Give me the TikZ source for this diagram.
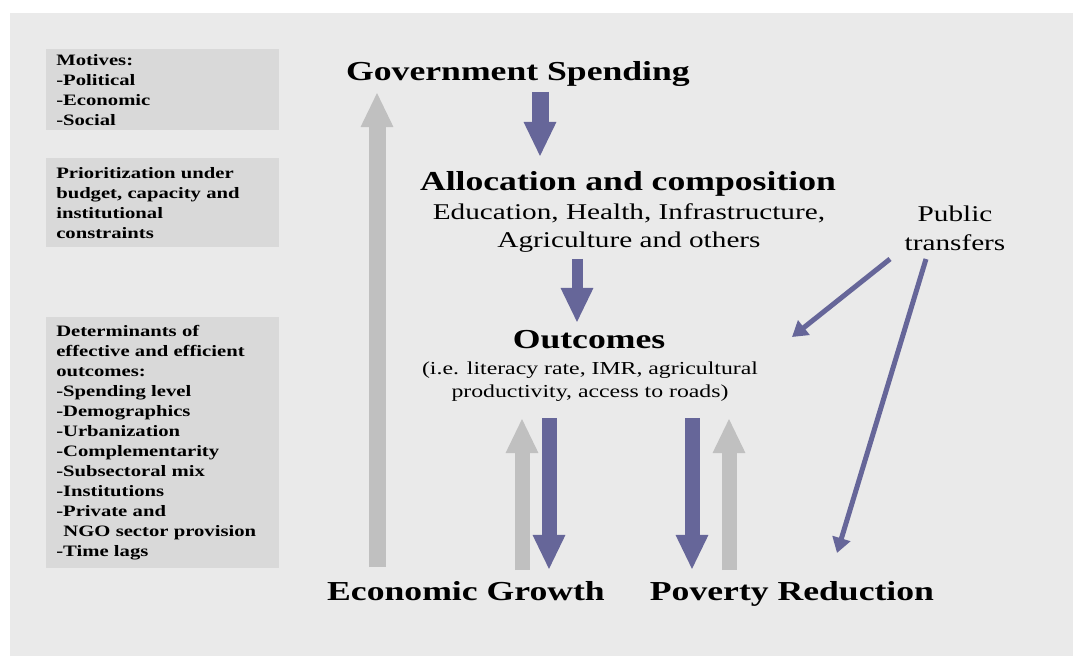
\documentclass[tikz,border=0pt]{standalone}
\usepackage{fontspec}
\setmainfont{Liberation Serif}[FakeStretch=1.3]
\usetikzlibrary{arrows.meta,positioning}

\definecolor{panelgray}{HTML}{EAEAEA}
\definecolor{boxgray}{HTML}{D9D9D9}
\definecolor{flowpurple}{HTML}{666699}
\definecolor{backgray}{HTML}{C0C0C0}

\tikzset{
    notebox/.style={fill=boxgray, anchor=north west, inner xsep=0.25cm, inner ysep=0pt,
        text width=5.325cm, align=left, font=\fontsize{11.3}{14.2}\selectfont\bfseries},
    headline/.style={font=\fontsize{19.5}{22}\selectfont\bfseries, inner sep=0pt,
        text height=14pt, text depth=4pt},
    bodyline/.style={font=\fontsize{16}{20.5}\selectfont, align=center, inner sep=0pt},
    blockarrow/.style={line width=#1, -{Triangle[width=0.75cm,length=0.875cm]}},
    thinarrow/.style={flowpurple, line width=0.125cm, -{Triangle[width=0.45cm,length=0.38cm]}}
}

\begin{document}
\begin{tikzpicture}[x=0.025cm, y=-0.025cm]
        % Draw the panel
        \path[fill=white] (0,0) rectangle (1073,656);
        \fill[panelgray] (10,13) rectangle (1073,656);

        % Draw the note boxes on the left
        \node[notebox, minimum height=2.025cm] (motives) at (46,49)
            {Motives:\\-Political\\-Economic\\-Social};
        \node[notebox, minimum height=2.225cm] (priorities) at (46,158)
            {Prioritization under\\budget, capacity and\\institutional\\constraints};
        \node[notebox, minimum height=6.275cm] (determinants) at (46,317)
            {Determinants of\\effective and efficient\\outcomes:\\-Spending level\\-Demographics\\-Urbanization\\-Complementarity\\-Subsectoral mix\\-Institutions\\-Private and\\\hspace*{0.45em}NGO sector provision\\-Time lags};

        % Draw the main chain
        \node[headline] (spending) at (518,73) {Government Spending};
        \node[headline] (allocation) at (628,183) {Allocation and composition};
        \node[bodyline] (sectors) at (629,228) {Education, Health, Infrastructure,\\Agriculture and others};
        \node[headline] (outcomes) at (589,341) {Outcomes};
        \node[bodyline, font=\fontsize{13}{16.5}\selectfont] (indicators) at (590,382)
            {(i.e. literacy rate, IMR, agricultural\\productivity, access to roads)};
        \node[headline] (growth) at (466,593) {Economic Growth};
        \node[headline] (poverty) at (792,593) {Poverty Reduction};
        \node[bodyline] (transfers) at (955,228) {Public\\transfers};

        % Arrow ends
        \coordinate (spendfoot) at (540,92);
        \coordinate (allochead) at (540,157);
        \coordinate (sectorfoot) at (577,259);
        \coordinate (outchead) at (577,323);
        \coordinate (growthtop) at (377,567);
        \coordinate (spendtop) at (377,92);
        \coordinate (transferleft) at (890,259);
        \coordinate (outcright) at (792,337);
        \coordinate (transferright) at (926,259);
        \coordinate (povertytop) at (837,553);

        % Draw the downward flow
        \draw[flowpurple, blockarrow=0.425cm] (spendfoot) -- (allochead);
        \draw[flowpurple, blockarrow=0.275cm] (sectorfoot) -- (outchead);
        \draw[flowpurple, blockarrow=0.375cm] (549,418) -- (549,570);
        \draw[flowpurple, blockarrow=0.375cm] (692,418) -- (692,570);

        % Draw the feedback
        \draw[backgray, blockarrow=0.425cm] (growthtop) -- (spendtop);
        \draw[backgray, blockarrow=0.375cm] (522,570) -- (522,418);
        \draw[backgray, blockarrow=0.375cm] (729,570) -- (729,418);

        % Draw the transfers
        \draw[thinarrow] (transferleft) -- (outcright);
        \draw[thinarrow] (transferright) -- (povertytop);
\end{tikzpicture}
\end{document}
